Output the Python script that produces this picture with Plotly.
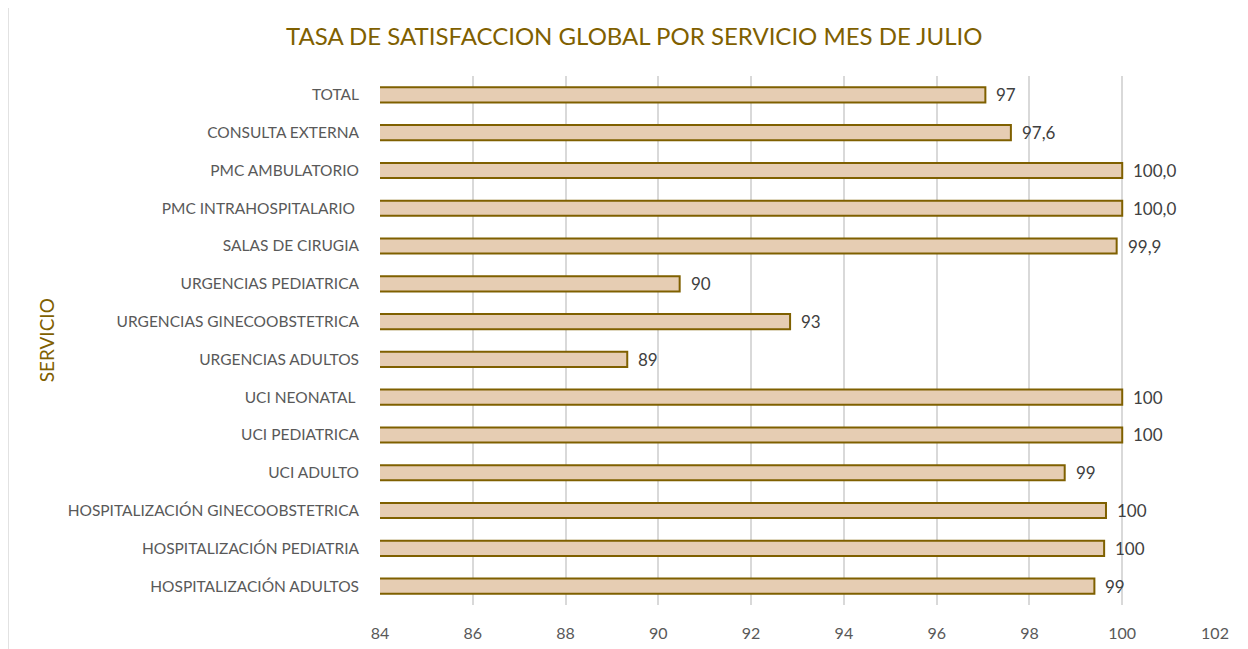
import plotly.graph_objects as go

# services listed top to bottom as in the chart
servicios = [
    "TOTAL",
    "CONSULTA EXTERNA",
    "PMC AMBULATORIO",
    "PMC INTRAHOSPITALARIO ",
    "SALAS DE CIRUGIA",
    "URGENCIAS PEDIATRICA",
    "URGENCIAS GINECOOBSTETRICA",
    "URGENCIAS ADULTOS",
    "UCI NEONATAL ",
    "UCI PEDIATRICA",
    "UCI ADULTO",
    "HOSPITALIZACIÓN GINECOOBSTETRICA",
    "HOSPITALIZACIÓN PEDIATRIA",
    "HOSPITALIZACIÓN ADULTOS",
]
tasa = [97.05, 97.6, 100.0, 100.0, 99.88, 90.46, 92.84, 89.33,
        100.0, 100.0, 98.76, 99.65, 99.61, 99.4]
etiquetas = ["97", "97,6", "100,0", "100,0", "99,9", "90", "93", "89",
             "100", "100", "99", "100", "100", "99"]
x_ticks = [84, 86, 88, 90, 92, 94, 96, 98, 100, 102]

GOLD = "#7F6000"
FONT = "Lato, Calibri, sans-serif"

fig = go.Figure()
fig.add_trace(go.Bar(
    y=servicios, x=tasa, orientation="h", base=0,
    marker=dict(color="#E6CDB3", line=dict(color=GOLD, width=2)),
    width=0.4, showlegend=False, hoverinfo="x+y",
))

for s, v, t in zip(servicios, tasa, etiquetas):
    fig.add_annotation(x=v, y=s, text=t, showarrow=False, xanchor="left",
                       xshift=9, font=dict(size=17, color="#404040", family=FONT))

fig.add_annotation(xref="paper", yref="paper", x=-0.399, y=0.5, text="SERVICIO",
                   textangle=-90, showarrow=False, xanchor="center", yanchor="middle",
                   font=dict(size=19, color=GOLD, family=FONT))

# chart area border
fig.add_shape(type="rect", xref="paper", yref="paper", x0=-0.4455, x1=1.06,
              y0=-0.2, y1=1.132, line=dict(color="#D9D9D9", width=1.5), layer="below")

# page body has an 8px margin, so the figure is drawn 8px smaller
fig.update_layout(
    width=1240, height=641,
    margin=dict(l=372, r=33, t=68, b=44),
    paper_bgcolor="white", plot_bgcolor="white",
    title=dict(text="TASA DE SATISFACCION GLOBAL POR SERVICIO MES DE JULIO",
               x=0.505, xanchor="center", y=0.955, yanchor="middle",
               font=dict(size=24, color=GOLD, family=FONT)),
    xaxis=dict(range=[84, 102], tickvals=x_ticks, showgrid=True,
               gridcolor="#D9D9D9", gridwidth=1.5, zeroline=False,
               tickfont=dict(size=16, color="#595959", family=FONT),
               ticks="outside", ticklen=0, tickcolor="#D9D9D9",
               ticklabelstandoff=14, automargin=False),
    yaxis=dict(autorange="reversed", showgrid=False, zeroline=False,
               ticklabelstandoff=20, automargin=False,
               tickfont=dict(size=15.5, color="#595959", family=FONT)),
    bargap=0.6,
)

fig.write_html("out.html")
